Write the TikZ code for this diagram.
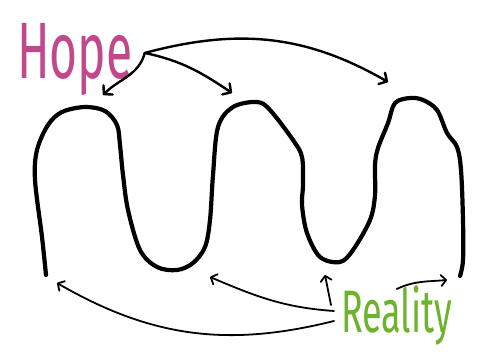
\documentclass[tikz,border=0pt]{standalone}
\usepackage{fontspec}
\setmainfont{Fira Sans}
\usetikzlibrary{arrows.meta}
\definecolor{hopepink}{HTML}{C2488C}
\definecolor{realgreen}{HTML}{6DB32B}

\begin{document}
\begin{tikzpicture}[x=1pt,y=-1pt,
        wave/.style={line width=4.2pt, line cap=round, line join=round},
        hopearrow/.style={line width=2.4pt, line cap=round, -{Straight Barb[round,length=6pt,width=13pt]}},
        realarrow/.style={line width=1.8pt, line cap=round, -{Straight Barb[round,length=5pt,width=11pt]}},
        word/.style={inner sep=0pt, anchor=base west}]
        \useasboundingbox (0,0) rectangle (484,353);
        % Wave
        \draw[wave] plot[smooth, tension=0.55] coordinates {
            (46,275) (42,237) (35,180) (37,150) (48,125) (62,112) (85,107) (105,111) (117,125)
            (120,145) (123,175) (128,210) (140,250) (157,267) (177,270) (193,263) (205,247)
            (210,220) (213,175) (218,127) (233,107) (257,102) (270,110) (293,140) (302,157)
            (303,185) (302,205) (307,233) (320,257) (340,262) (353,250) (370,220) (375,195)
            (375,165) (378,148) (388,123) (395,103) (410,98) (423,100) (437,110) (447,133)
            (457,147) (461,170) (463,220) (463,260) (460,276)};
        % Peaks and troughs
        \coordinate (peakA) at (103,95);
        \coordinate (peakB) at (232,93);
        \coordinate (peakC) at (388,82);
        \coordinate (troughA) at (57,283);
        \coordinate (troughB) at (210,277);
        \coordinate (troughC) at (325,275);
        \coordinate (rightend) at (447,280);
        % Labels
        \node[word, text=hopepink, font=\fontsize{80}{80}\selectfont] (hope) at (17,78) {\scalebox{0.6}[1]{Hope}};
        \node[word, text=realgreen, font=\fontsize{60}{60}\selectfont] (reality) at (341,332) {\scalebox{0.6}[1]{Reality}};
        % Hope arrows
        \draw[hopearrow] ([xshift=12,yshift=6]hope.east) to[out=255, in=45] (peakA);
        \draw[hopearrow] ([xshift=12,yshift=6]hope.east) to[out=-12, in=146] (peakB);
        \draw[hopearrow] ([xshift=12,yshift=6]hope.east) to[out=15, in=150] (peakC);
        % Reality arrows
        \draw[realarrow] ([xshift=-7,yshift=-6]reality.west) to[out=194, in=-30] (troughA);
        \draw[realarrow] ([xshift=-7,yshift=4]reality.west) to[out=176, in=-23] (troughB);
        \draw[realarrow] ([xshift=-10,yshift=10]reality.west) -- (troughC);
        \draw[realarrow] ([xshift=0,yshift=-4]reality.north) to[out=25, in=185] (rightend);
\end{tikzpicture}
\end{document}
